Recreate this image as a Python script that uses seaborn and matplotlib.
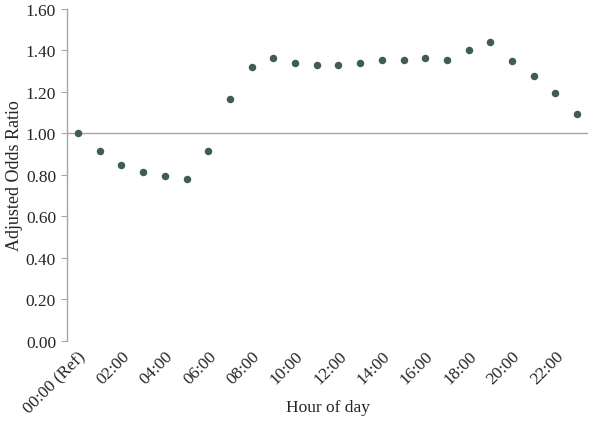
import matplotlib
matplotlib.use("Agg")
import matplotlib.pyplot as plt
import seaborn as sns
import pandas as pd

# Adjusted odds ratio by hour of day
hours = [f"{h:02d}:00" for h in range(24)]
odds_ratio = [1.000, 0.915, 0.848, 0.814, 0.793, 0.779, 0.917, 1.166,
              1.320, 1.362, 1.338, 1.330, 1.328, 1.340, 1.353, 1.356,
              1.364, 1.354, 1.404, 1.440, 1.349, 1.277, 1.197, 1.094]
tick_labels = ["00:00 (Ref)", "02:00", "04:00", "06:00", "08:00", "10:00",
               "12:00", "14:00", "16:00", "18:00", "20:00", "22:00"]

df = pd.DataFrame({"hour": hours, "aor": odds_ratio})

sns.set_style("white")
plt.rcParams["font.family"] = ["Liberation Serif", "DejaVu Serif"]

fig = plt.figure(figsize=(6.0, 4.31), dpi=100)
ax = fig.add_axes([0.112, 0.2065, 0.868, 0.7705])

sns.stripplot(data=df, x="hour", y="aor", jitter=False, color="#3e5d54",
              size=5.4, linewidth=0, ax=ax)

# reference line at OR = 1
ax.axhline(1.0, color="#a6a6a6", linewidth=1.0, zorder=0)

ax.set_ylim(0, 1.6)
ax.set_xlim(-0.5, 23.5)
ax.set_yticks([0, 0.2, 0.4, 0.6, 0.8, 1.0, 1.2, 1.4, 1.6])
ax.set_yticklabels([f"{v:.2f}" for v in ax.get_yticks()], fontsize=12.5)
ax.set_xticks(range(0, 24, 2))
ax.set_xticklabels(tick_labels, rotation=45, ha="right",
                   rotation_mode="anchor", fontsize=12.5)

for s in ["top", "right", "bottom"]:
    ax.spines[s].set_visible(False)
ax.spines["left"].set_color("#a6a6a6")
ax.spines["left"].set_linewidth(1.0)
ax.tick_params(axis="y", left=True, length=4, color="#a6a6a6", pad=4)
ax.tick_params(axis="x", bottom=False, length=0, pad=5)

ax.set_xlabel("Hour of day", fontsize=12.5)
ax.set_ylabel("Adjusted Odds Ratio", fontsize=13)
ax.xaxis.set_label_coords(0.5, -0.175)
ax.yaxis.set_label_coords(-0.084, 0.5)

fig.savefig("out.png", dpi=100)
